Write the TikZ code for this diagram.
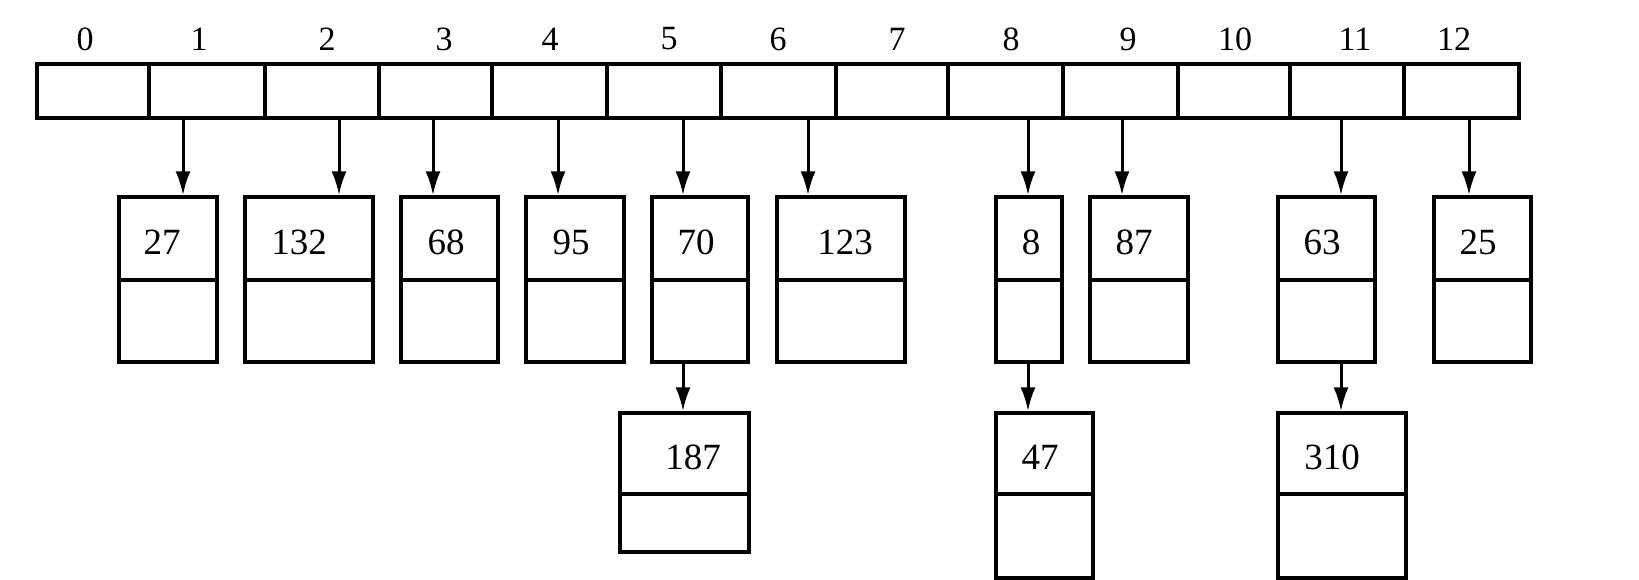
\documentclass[tikz,border=0pt]{standalone}
\usepackage{fontspec}
\setmainfont{Liberation Serif}
\usetikzlibrary{fit,arrows.meta}
\begin{document}
\begin{tikzpicture}[x=0.5pt,y=-0.5pt,
  ln/.style={line width=1.7pt},
  cell/.style={draw,line width=1.7pt,inner sep=0pt},
  bx/.style={draw,line width=1.7pt,inner sep=0pt},
  idx/.style={inner sep=0pt,font=\fontsize{17}{20}\selectfont},
  val/.style={inner sep=0pt,font=\fontsize{18.5}{22}\selectfont},
  arr/.style={line width=1.5pt,-{Latex[length=12pt,width=7.5pt]}}]
\useasboundingbox (0,0) rectangle (1639,579);
% hash table cells
\foreach \i/\l/\r in {0/37/149,1/149/265,2/265/379,3/379/492,4/492/607,5/607/721,6/721/836,7/836/948,8/948/1063,9/1063/1178,10/1178/1290,11/1290/1404,12/1404/1519}
  \node[cell, fit={(\l,64) (\r,118)}] (c\i) {};
% index labels
\foreach \i/\x in {0/85,1/199,2/327,3/444,4/550,5/669,6/778,7/897,8/1011,9/1128,10/1235,11/1355,12/1454}
  \node[idx] (l\i) at (\x,39) {\i};
% divider levels
\coordinate (d1) at (0,280);
\coordinate (d2) at (0,494);
% first row of nodes
\foreach \v/\l/\r/\tx in {27/119/217/162,132/245/373/299,68/401/498/446,95/526/624/571,70/652/748/696,123/777/905/845,8/996/1062/1031,87/1090/1188/1134,63/1278/1375/1322,25/1434/1531/1478}{
  \node[bx, fit={(\l,197) (\r,362)}] (b\v) {};
  \draw[ln] (b\v.west |- d1) -- (b\v.east |- d1);
  \node[val] (t\v) at (\tx,242) {\v};
}
% second row of nodes
\foreach \v/\l/\r/\bt/\tx in {187/620/749/552/693,47/996/1093/578/1040,310/1278/1406/578/1332}{
  \node[bx, fit={(\l,413) (\r,\bt)}] (b\v) {};
  \draw[ln] (b\v.west |- d2) -- (b\v.east |- d2);
  \node[val] (t\v) at (\tx,457) {\v};
}
% arrows from table to first row
\foreach \c/\b/\x in {1/27/183,2/132/339,3/68/433,4/95/558,5/70/683,6/123/808,8/8/1028,9/87/1122,11/63/1341,12/25/1469}{
  \coordinate (a\c) at (\x,0);
  \draw[arr] (c\c.south -| a\c) -- (b\b.north -| a\c);
}
% arrows from first row to second row
\draw[arr] (b70.south -| a5) -- (b187.north -| a5);
\draw[arr] (b8.south -| a8) -- (b47.north -| a8);
\draw[arr] (b63.south -| a11) -- (b310.north -| a11);
\end{tikzpicture}
\end{document}
